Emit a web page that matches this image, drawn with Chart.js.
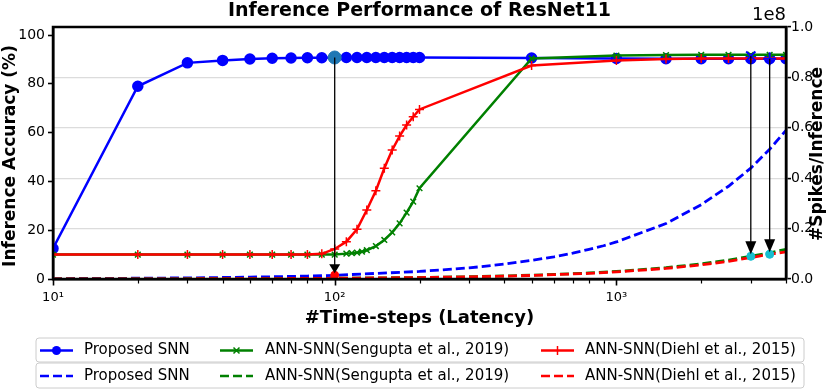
<!DOCTYPE html>
<html>
<head>
<meta charset="utf-8">
<script src="https://cdn.jsdelivr.net/npm/chart.js@4.4.1/dist/chart.umd.min.js"></script>
<style>
  body { margin: 0; background: #fff; }
  canvas { display: block; }
</style>
</head>
<body>
<canvas id="perfChart" width="829" height="392"></canvas>
<script>
// accuracy curves (left axis, %)
var proposedX = [10, 20, 30, 40, 50, 60, 70, 80, 90, 100, 110, 120, 130, 140, 150, 160, 170, 180, 190, 200, 500, 1000, 1500, 2000, 2500, 3000, 3500, 4000];
var proposedAcc = [12.5, 79, 88.6, 89.6, 90.2, 90.5, 90.6, 90.7, 90.7, 90.8, 90.8, 90.8, 90.8, 90.8, 90.8, 90.8, 90.8, 90.8, 90.8, 90.8, 90.6, 90.4, 90.3, 90.3, 90.3, 90.3, 90.3, 90.3];

var senguptaX = [10, 20, 30, 40, 50, 60, 70, 80, 90, 100, 110, 115, 120, 125, 130, 140, 150, 160, 170, 180, 190, 200, 500, 1000, 1500, 2000, 2500, 3000, 3500, 4000];
var senguptaAcc = [10, 10, 10, 10, 10, 10, 10, 10, 10, 10, 10.4, 10.6, 10.8, 11.2, 11.8, 13.5, 16, 19.1, 22.8, 27.2, 31.7, 37.2, 90.4, 91.6, 91.8, 91.9, 91.9, 91.9, 91.9, 91.9];

var diehlX = [10, 20, 30, 40, 50, 60, 70, 80, 90, 100, 110, 120, 130, 140, 150, 160, 170, 180, 190, 200, 500, 1000, 1500, 2000, 2500, 3000, 3500, 4000];
var diehlAcc = [10, 10, 10, 10, 10, 10, 10, 10, 10.3, 12.3, 15.3, 20.4, 28.3, 36.2, 45.4, 52.9, 58.6, 63.1, 66.5, 69.5, 87.5, 89.6, 90.2, 90.4, 90.4, 90.4, 90.4, 90.4];

// spikes per inference (right axis)
var spikeX = [10, 20, 30, 40, 50, 60, 70, 80, 90, 100, 200, 300, 400, 500, 600, 700, 800, 900, 1000, 1500, 2000, 2500, 3000, 3500, 4000];
var proposedSpikes = [1.5e5, 3e5, 4.4e5, 5.9e5, 7.4e5, 8.8e5, 1.03e6, 1.18e6, 1.32e6, 1.47e6, 3.0e6, 4.4e6, 5.9e6, 7.4e6, 8.8e6, 1.03e7, 1.18e7, 1.32e7, 1.47e7, 2.2e7, 2.95e7, 3.68e7, 4.4e7, 5.15e7, 5.9e7];
var senguptaSpikes = [3e4, 6e4, 9e4, 1.2e5, 1.5e5, 1.8e5, 2.1e5, 2.4e5, 2.7e5, 3e5, 6e5, 9e5, 1.2e6, 1.5e6, 1.8e6, 2.1e6, 2.4e6, 2.7e6, 3.0e6, 4.5e6, 6.0e6, 7.5e6, 9.0e6, 1.04e7, 1.18e7];
var diehlSpikes = [2.8e4, 5.6e4, 8.4e4, 1.1e5, 1.4e5, 1.7e5, 2.0e5, 2.2e5, 2.5e5, 2.8e5, 5.6e5, 8.4e5, 1.12e6, 1.4e6, 1.7e6, 2.0e6, 2.2e6, 2.5e6, 2.8e6, 4.2e6, 5.6e6, 7.0e6, 8.5e6, 9.8e6, 1.08e7];

// highlighted points and the arrows joining them
var arrowX = [100, 3000, 3500];
var arrowAcc = [90.8, 91.4, 90.3];
var arrowSpikes = [1.5e6, 9.0e6, 9.8e6];

// x tick positions (log axis) and the labels of the major ones
var xTicks = [10, 20, 30, 40, 50, 60, 70, 80, 90, 100, 200, 300, 400, 500, 600, 700, 800, 900, 1000, 2000, 3000, 4000];
var xTickLabels = { 10: '10¹', 100: '10²', 1000: '10³' };

var legendNames = ['Proposed SNN', 'ANN-SNN(Sengupta et al., 2019)', 'ANN-SNN(Diehl et al., 2015)'];
var colors = ['#0000ff', '#008000', '#ff0000'];

function pts(xs, ys) {
    return xs.map(function (x, i) { return { x: x, y: ys[i] }; });
}

var FONT = '"DejaVu Sans", sans-serif';

var decorations = {
    id: 'decorations',
    afterDatasetsDraw: function (chart) {
        var ctx = chart.ctx, s = chart.scales;
        ctx.save();
        ctx.strokeStyle = '#000';
        ctx.fillStyle = '#000';
        ctx.lineWidth = 1.3;
        arrowX.forEach(function (x, i) {
            var px = s.x.getPixelForValue(x);
            var y0 = s.y.getPixelForValue(arrowAcc[i]);
            var tip = s.y2.getPixelForValue(arrowSpikes[i]) - 2;
            var h = i === 0 ? 9 : 13;
            ctx.beginPath();
            ctx.moveTo(px, y0);
            ctx.lineTo(px, tip - h + 1);
            ctx.stroke();
            ctx.beginPath();
            ctx.moveTo(px - 5.5, tip - h);
            ctx.lineTo(px + 5.5, tip - h);
            ctx.lineTo(px, tip);
            ctx.closePath();
            ctx.fill();
        });
        ctx.restore();
    },
    afterDraw: function (chart) {
        var ctx = chart.ctx, a = chart.chartArea;
        ctx.save();
        // frame
        ctx.strokeStyle = '#000';
        ctx.lineWidth = 2.5;
        ctx.strokeRect(a.left, a.top, a.right - a.left, a.bottom - a.top);

        // x tick marks, minor ones shorter (matplotlib style)
        ctx.strokeStyle = '#000';
        xTicks.forEach(function (v) {
            var px = Math.round(chart.scales.x.getPixelForValue(v)) + 0.5;
            var major = !!xTickLabels[v];
            ctx.lineWidth = major ? 1.6 : 1.2;
            ctx.beginPath();
            ctx.moveTo(px, a.bottom);
            ctx.lineTo(px, a.bottom + (major ? 6.5 : 4.5));
            ctx.stroke();
        });

        ctx.fillStyle = '#000';
        ctx.textAlign = 'center';
        ctx.textBaseline = 'middle';
        ctx.font = 'bold 19px ' + FONT;
        ctx.fillText('Inference Performance of ResNet11', (a.left + a.right) / 2, 11);
        ctx.font = '18px ' + FONT;
        ctx.textAlign = 'right';
        ctx.fillText('1e8', a.right, 15);

        ctx.textAlign = 'center';
        ctx.font = 'bold 18px ' + FONT;
        ctx.fillText('#Time-steps (Latency)', (a.left + a.right) / 2, 318);

        ctx.font = 'bold 17px ' + FONT;
        ctx.save();
        ctx.translate(11, (a.top + a.bottom) / 2 + 3);
        ctx.rotate(-Math.PI / 2);
        ctx.fillText('Inference Accuracy (%)', 0, 0);
        ctx.restore();
        ctx.save();
        ctx.translate(818, 154);
        ctx.rotate(-Math.PI / 2);
        ctx.fillText('#Spikes/Inference', 0, 0);
        ctx.restore();

        // legend: two framed rows (solid, dashed)
        var rows = [[338, 362], [363, 388]];
        var lineX = [[40, 73], [220, 253], [541, 574]];
        var textX = [84, 265, 585];
        rows.forEach(function (r, ri) {
            ctx.beginPath();
            ctx.roundRect(36, r[0], 768, r[1] - r[0], 3);
            ctx.fillStyle = 'rgba(255,255,255,0.8)';
            ctx.fill();
            ctx.strokeStyle = '#cccccc';
            ctx.lineWidth = 1;
            ctx.stroke();
            var cy = (r[0] + r[1]) / 2 + 0.5;
            for (var k = 0; k < 3; k++) {
                ctx.strokeStyle = colors[k];
                ctx.fillStyle = colors[k];
                ctx.lineWidth = 2.5;
                ctx.setLineDash(ri === 1 ? [9, 4] : []);
                ctx.beginPath();
                ctx.moveTo(lineX[k][0], cy);
                ctx.lineTo(lineX[k][1], cy);
                ctx.stroke();
                ctx.setLineDash([]);
                var mx = (lineX[k][0] + lineX[k][1]) / 2;
                if (ri === 0) {
                    ctx.lineWidth = 1.5;
                    ctx.beginPath();
                    if (k === 0) {
                        ctx.arc(mx, cy, 4.5, 0, Math.PI * 2);
                        ctx.fill();
                    } else if (k === 1) {
                        ctx.moveTo(mx - 3, cy - 3); ctx.lineTo(mx + 3, cy + 3);
                        ctx.moveTo(mx - 3, cy + 3); ctx.lineTo(mx + 3, cy - 3);
                        ctx.stroke();
                    } else {
                        ctx.moveTo(mx, cy - 4.5); ctx.lineTo(mx, cy + 4.5);
                        ctx.stroke();
                    }
                }
                ctx.fillStyle = '#000';
                ctx.font = '15px ' + FONT;
                ctx.textAlign = 'left';
                ctx.fillText(legendNames[k], textX[k], cy);
            }
        });
        ctx.restore();
    }
};

var ctxPerf = document.getElementById('perfChart').getContext('2d');
var perfChart = new Chart(ctxPerf, {
    type: 'line',
    data: {
        datasets: [{
            label: 'highlight acc 100',
            data: pts(arrowX.slice(0, 1), arrowAcc.slice(0, 1)),
            yAxisID: 'y', showLine: false, order: 0,
            pointStyle: 'circle', pointRadius: 6.5,
            pointBackgroundColor: '#1f77b4', pointBorderColor: '#1f77b4'
        }, {
            label: 'highlight acc 3000',
            data: pts(arrowX.slice(1, 2), arrowAcc.slice(1, 2)),
            yAxisID: 'y', showLine: false, order: 0,
            pointStyle: 'crossRot', pointRadius: 6.5, pointBorderWidth: 2,
            pointBorderColor: '#0000ff'
        }, {
            label: 'highlight acc 3500',
            data: pts(arrowX.slice(2), arrowAcc.slice(2)),
            yAxisID: 'y', showLine: false, order: 0,
            pointStyle: 'cross', pointRadius: 6.5, pointBorderWidth: 2,
            pointBorderColor: '#0000ff'
        }, {
            label: 'highlight spikes',
            data: pts(arrowX, arrowSpikes),
            yAxisID: 'y2', showLine: false, order: 0,
            pointStyle: 'circle', pointRadius: 4,
            pointBackgroundColor: ['#ff0000', '#17becf', '#17becf'],
            pointBorderColor: ['#ff0000', '#17becf', '#17becf']
        }, {
            label: legendNames[2],
            data: pts(diehlX, diehlAcc),
            yAxisID: 'y', order: 1,
            borderColor: colors[2], borderWidth: 2.5,
            pointStyle: 'cross', pointRadius: 4.5, pointBorderWidth: 1.5,
            pointBorderColor: colors[2]
        }, {
            label: legendNames[1],
            data: pts(senguptaX, senguptaAcc),
            yAxisID: 'y', order: 2,
            borderColor: colors[1], borderWidth: 2.5,
            pointStyle: 'crossRot', pointRadius: 4, pointBorderWidth: 1.5,
            pointBorderColor: colors[1]
        }, {
            label: legendNames[0],
            data: pts(proposedX, proposedAcc),
            yAxisID: 'y', order: 3,
            borderColor: colors[0], borderWidth: 2.5,
            pointStyle: 'circle', pointRadius: 4.5,
            pointBackgroundColor: colors[0], pointBorderColor: colors[0]
        }, {
            label: legendNames[2] + ' spikes',
            data: pts(spikeX, diehlSpikes),
            yAxisID: 'y2', order: 4,
            borderColor: colors[2], borderWidth: 2.8, borderDash: [9, 4],
            pointRadius: 0
        }, {
            label: legendNames[1] + ' spikes',
            data: pts(spikeX, senguptaSpikes),
            yAxisID: 'y2', order: 5,
            borderColor: colors[1], borderWidth: 2.8, borderDash: [9, 4],
            pointRadius: 0
        }, {
            label: legendNames[0] + ' spikes',
            data: pts(spikeX, proposedSpikes),
            yAxisID: 'y2', order: 6,
            borderColor: colors[0], borderWidth: 2.8, borderDash: [9, 4],
            pointRadius: 0
        }]
    },
    options: {
        responsive: false,
        animation: false,
        layout: { padding: { top: 27, left: 0, right: 0, bottom: 0 } },
        plugins: {
            legend: { display: false },
            tooltip: { enabled: false },
            title: { display: false }
        },
        scales: {
            x: {
                type: 'logarithmic',
                position: 'bottom',
                min: 10,
                max: 4000,
                afterBuildTicks: function (scale) {
                    scale.ticks = xTicks.map(function (v) { return { value: v, major: !!xTickLabels[v] }; });
                },
                afterFit: function (scale) { scale.height = 113; },
                border: { display: true, color: '#000', width: 2.5 },
                grid: { drawOnChartArea: false, drawTicks: false },
                ticks: {
                    autoSkip: false, maxRotation: 0, minRotation: 0, padding: 11,
                    color: '#000', font: { family: FONT, size: 13 },
                    callback: function (v) { return xTickLabels[Math.round(v)] || ''; }
                }
            },
            y: {
                type: 'linear',
                position: 'left',
                min: 0,
                max: 103.3,
                afterFit: function (scale) { scale.width = 53; },
                border: { display: true, color: '#000', width: 2.5 },
                grid: { drawOnChartArea: false, tickLength: 5, tickColor: '#000', tickWidth: 1.6 },
                ticks: {
                    stepSize: 20, includeBounds: false, padding: 3,
                    color: '#000', font: { family: FONT, size: 14 }
                }
            },
            y2: {
                type: 'linear',
                position: 'right',
                min: 0,
                max: 1e8,
                afterFit: function (scale) { scale.width = 43; },
                border: { display: true, color: '#000', width: 2.5 },
                grid: {
                    drawOnChartArea: true, color: '#dcdcdc', lineWidth: 1.2,
                    tickLength: 5, tickColor: '#000', tickWidth: 1.6
                },
                ticks: {
                    stepSize: 2e7, padding: 0,
                    color: '#000', font: { family: FONT, size: 14 },
                    callback: function (v) { return (v / 1e8).toFixed(1); }
                }
            }
        }
    },
    plugins: [decorations]
});
</script>
</body>
</html>
